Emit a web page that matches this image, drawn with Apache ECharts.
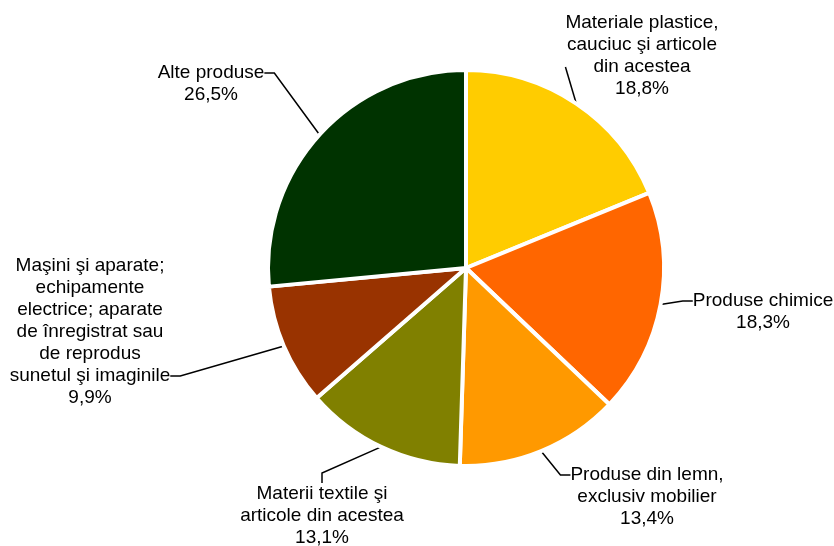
<!DOCTYPE html>
<html>
<head>
<meta charset="utf-8">
<script src="https://cdn.jsdelivr.net/npm/echarts@6/dist/echarts.min.js"></script>
<style>html,body{margin:0;padding:0;background:#fff}#c{width:834px;height:546px}</style>
</head>
<body>
<div id="c"></div>
<script>
const categories = [
  "Materiale plastice,\ncauciuc şi articole\ndin acestea",
  "Produse chimice",
  "Produse din lemn,\nexclusiv mobilier",
  "Materii textile şi\narticole din acestea",
  "Maşini şi aparate;\nechipamente\nelectrice; aparate\nde înregistrat sau\nde reprodus\nsunetul şi imaginile",
  "Alte produse"
];
const values = [18.8, 18.3, 13.4, 13.1, 9.9, 26.5];
const colors = ["#FFCC00", "#FF6600", "#FF9900", "#808000", "#993300", "#003300"];

// label layout: x = centre of text, y = centre of the text line the leader line meets
const labelPos = [[642, 67], [763, 301], [647, 475], [322, 516], [90, 376], [211, 73]];
// blank lines added before / after the text so the leader line meets the right text line
const padLines = [[0, 1], [1, 0], [2, 0], [0, 0], [0, 4], [1, 0]];

const chart = echarts.init(document.getElementById('c'), null, {renderer: 'canvas'});
chart.setOption({
  animation: false,
  backgroundColor: '#fff',
  series: [{
    type: 'pie',
    center: [466, 268],
    radius: [0, 198],
    startAngle: 90,
    clockwise: true,
    data: categories.map((n, i) => ({name: n, value: values[i], itemStyle: {color: colors[i]}})),
    itemStyle: {borderColor: '#fff', borderWidth: 4},
    label: {
      show: true,
      color: '#000',
      fontFamily: 'Liberation Sans, Arial, sans-serif',
      fontSize: 19,
      lineHeight: 22,
      align: 'center',
      overflow: 'none',
      formatter: p => {
        const pl = padLines[p.dataIndex];
        return '\n'.repeat(pl[0]) + p.name + '\n' + p.value.toFixed(1).replace('.', ',') + '%' + '\n'.repeat(pl[1]);
      }
    },
    labelLine: {show: true, length: 10, length2: 10, lineStyle: {color: '#000', width: 1.5}},
    labelLayout: p => ({x: labelPos[p.dataIndex][0], y: labelPos[p.dataIndex][1], align: 'center', verticalAlign: 'middle'}),
    emphasis: {disabled: true}
  }]
});
</script>
</body>
</html>
